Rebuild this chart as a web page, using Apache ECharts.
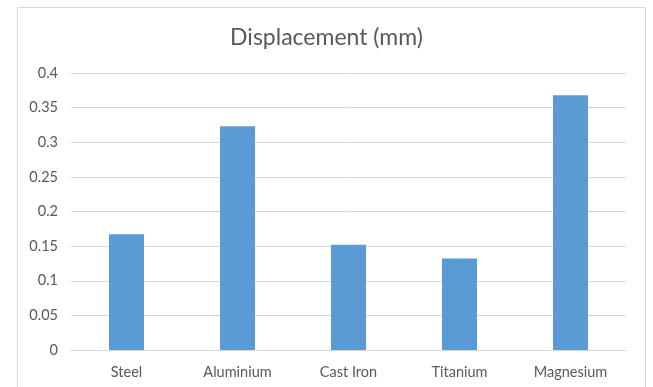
<!DOCTYPE html>
<html>
<head>
<meta charset="utf-8">
<script src="https://cdn.jsdelivr.net/npm/echarts@6/dist/echarts.min.js"></script>
<style>
html, body { margin: 0; padding: 0; background: #fff; }
#chart { width: 653px; height: 387px; }
</style>
</head>
<body>
<div id="chart"></div>
<script>
const materials = ['Steel', 'Aluminium', 'Cast Iron', 'Titanium', 'Magnesium'];
const displacement = [0.167, 0.323, 0.152, 0.132, 0.368];

const chart = echarts.init(document.getElementById('chart'));
const fontFamily = 'Lato, "Open Sans", sans-serif';

chart.setOption({
  animation: false,
  backgroundColor: '#fff',
  title: {
    text: 'Displacement (mm)',
    left: 'center',
    top: 21,
    textStyle: { fontFamily: fontFamily, fontSize: 23, fontWeight: 'normal', color: '#595959' }
  },
  // outer chart frame
  graphic: [{
    type: 'rect',
    shape: { x: 17.5, y: 7.5, width: 628, height: 400 },
    style: { fill: 'none', stroke: '#d9d9d9', lineWidth: 1 },
    silent: true
  }],
  grid: { left: 71, right: 27, top: 73, bottom: 37 },
  xAxis: {
    type: 'category',
    data: materials,
    axisLine: { lineStyle: { color: '#d9d9d9' } },
    axisTick: { show: false },
    axisLabel: { color: '#595959', fontFamily: fontFamily, fontSize: 14.5, margin: 15 }
  },
  yAxis: {
    type: 'value',
    min: 0,
    max: 0.4,
    interval: 0.05,
    axisLine: { show: false },
    axisTick: { show: false },
    axisLabel: { color: '#595959', fontFamily: fontFamily, fontSize: 14.5, margin: 13 },
    splitLine: { lineStyle: { color: '#d9d9d9' } }
  },
  series: [{
    type: 'bar',
    data: displacement,
    barWidth: 35,
    itemStyle: { color: '#5b9bd5' }
  }]
});
</script>
</body>
</html>
